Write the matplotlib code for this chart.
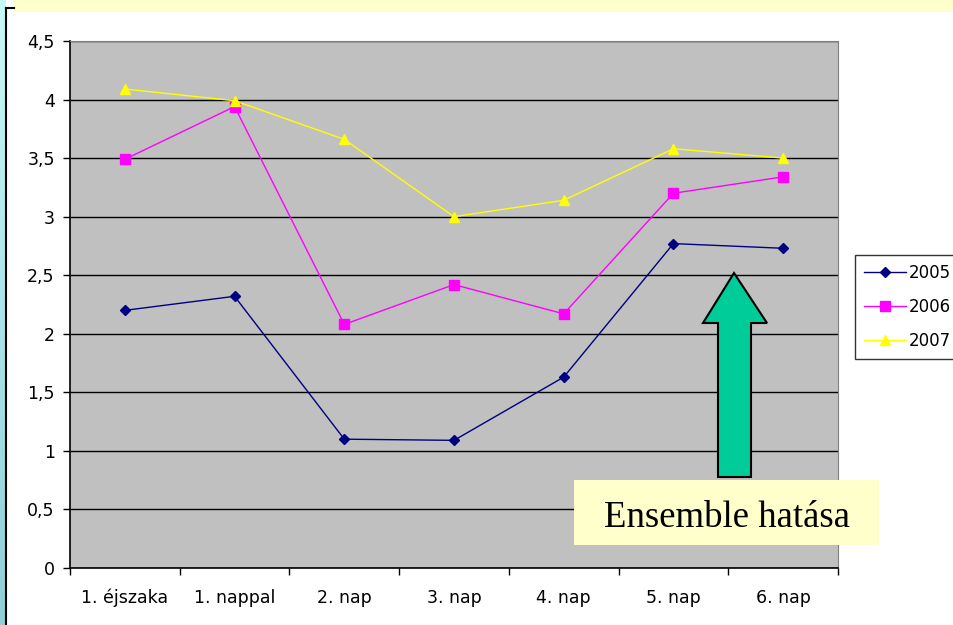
import numpy as np
import matplotlib
matplotlib.use("Agg")
import matplotlib.pyplot as plt
from matplotlib.patches import Rectangle, Polygon
from matplotlib.lines import Line2D
from matplotlib.colors import LinearSegmentedColormap
from matplotlib.ticker import FuncFormatter, MultipleLocator

# napok es evek
napok = ["1. éjszaka", "1. nappal", "2. nap", "3. nap", "4. nap", "5. nap", "6. nap"]
evek = ["2005", "2006", "2007"]
ertek_2005 = [2.20, 2.32, 1.10, 1.09, 1.63, 2.77, 2.73]
ertek_2006 = [3.49, 3.94, 2.08, 2.42, 2.17, 3.20, 3.34]
ertek_2007 = [4.09, 3.99, 3.66, 3.00, 3.14, 3.58, 3.50]

W, H = 954, 625
fig = plt.figure(figsize=(W / 100, H / 100), dpi=100)
fig.patch.set_facecolor("white")

def px(x, y):
    # pixel -> figure fraction (y lefele no)
    return x / W, 1 - y / H

# bal oldali szines csik
csik = fig.add_axes([0, 0, 6 / W, 1])
grad = np.linspace(0, 1, 256).reshape(-1, 1)
cm = LinearSegmentedColormap.from_list("csik", ["#c6f8f8", "#8ecfd8"])
csik.imshow(grad, aspect="auto", cmap=cm)
csik.axis("off")

# keret
fig.add_artist(Line2D([6.5 / W, 6.5 / W], [0, 1 - 8 / H], color="black", lw=1.5))
fig.add_artist(Line2D([6.5 / W, 14 / W], [1 - 8 / H, 1 - 8 / H], color="black", lw=1.5))

# cimsav
fig.add_artist(Rectangle(px(14, 12), (W - 14) / W, 12 / H, facecolor="#ffffcc",
                         edgecolor="none", transform=fig.transFigure))

ax = fig.add_axes([70 / W, (H - 568) / H, (838 - 70) / W, (568 - 41) / H])
ax.set_facecolor("#c0c0c0")

x = np.arange(len(napok))
ax.plot(x, ertek_2005, color="#000080", lw=1.0, marker="D", ms=5.5, label=evek[0], zorder=4)
ax.plot(x, ertek_2006, color="#ff00ff", lw=1.0, marker="s", ms=6.5, label=evek[1], zorder=4)
ax.plot(x, ertek_2007, color="#ffff00", lw=1.0, marker="^", ms=7, label=evek[2], zorder=4)

ax.set_xlim(-0.5, len(napok) - 0.5)
ax.set_ylim(0, 4.5)
ax.yaxis.set_major_locator(MultipleLocator(0.5))
ax.yaxis.set_major_formatter(FuncFormatter(lambda v, p: f"{v:g}".replace(".", ",")))
ax.grid(axis="y", color="black", lw=1.0, zorder=1)
ax.set_axisbelow(True)

ax.set_xticks(x)
ax.set_xticklabels(napok)
ax.set_xticks(np.arange(-0.5, len(napok)), minor=True)
ax.tick_params(axis="x", which="major", length=0, pad=15, labelsize=12.5)
ax.tick_params(axis="x", which="minor", length=5, width=1, direction="out")
ax.tick_params(axis="y", length=5, width=1, direction="out", pad=6, labelsize=12.5)

for s in ["left", "bottom"]:
    ax.spines[s].set_color("black")
    ax.spines[s].set_linewidth(1.2)
ax.spines["top"].set_color("#808080")
ax.spines["right"].set_color("#808080")

leg = ax.legend(loc="upper left", bbox_to_anchor=(855 / W, 1 - 255 / H), bbox_transform=fig.transFigure,
                frameon=True, fancybox=False, fontsize=12, handlelength=2.5,
                handletextpad=0.2, labelspacing=0.95, borderpad=0.55, borderaxespad=0)
leg.get_frame().set_edgecolor("black")
leg.get_frame().set_linewidth(1.0)

# nyil
nyil = [(734, 273), (767, 323), (751, 323), (751, 477), (718, 477), (718, 323), (703, 323)]
fig.add_artist(Polygon([px(a, b) for a, b in nyil], closed=True, facecolor="#00cc99",
                       edgecolor="black", lw=1.5, transform=fig.transFigure, zorder=5))

# felirat
fig.add_artist(Rectangle(px(574, 545), (879 - 574) / W, (545 - 480) / H, facecolor="#ffffcc",
                         edgecolor="none", transform=fig.transFigure, zorder=5))
fig.text(726.5 / W, 1 - 527 / H, "Ensemble hatása", family="Liberation Serif", fontsize=26.5,
         ha="center", va="baseline", zorder=6)

fig.savefig("out.png", dpi=100)
